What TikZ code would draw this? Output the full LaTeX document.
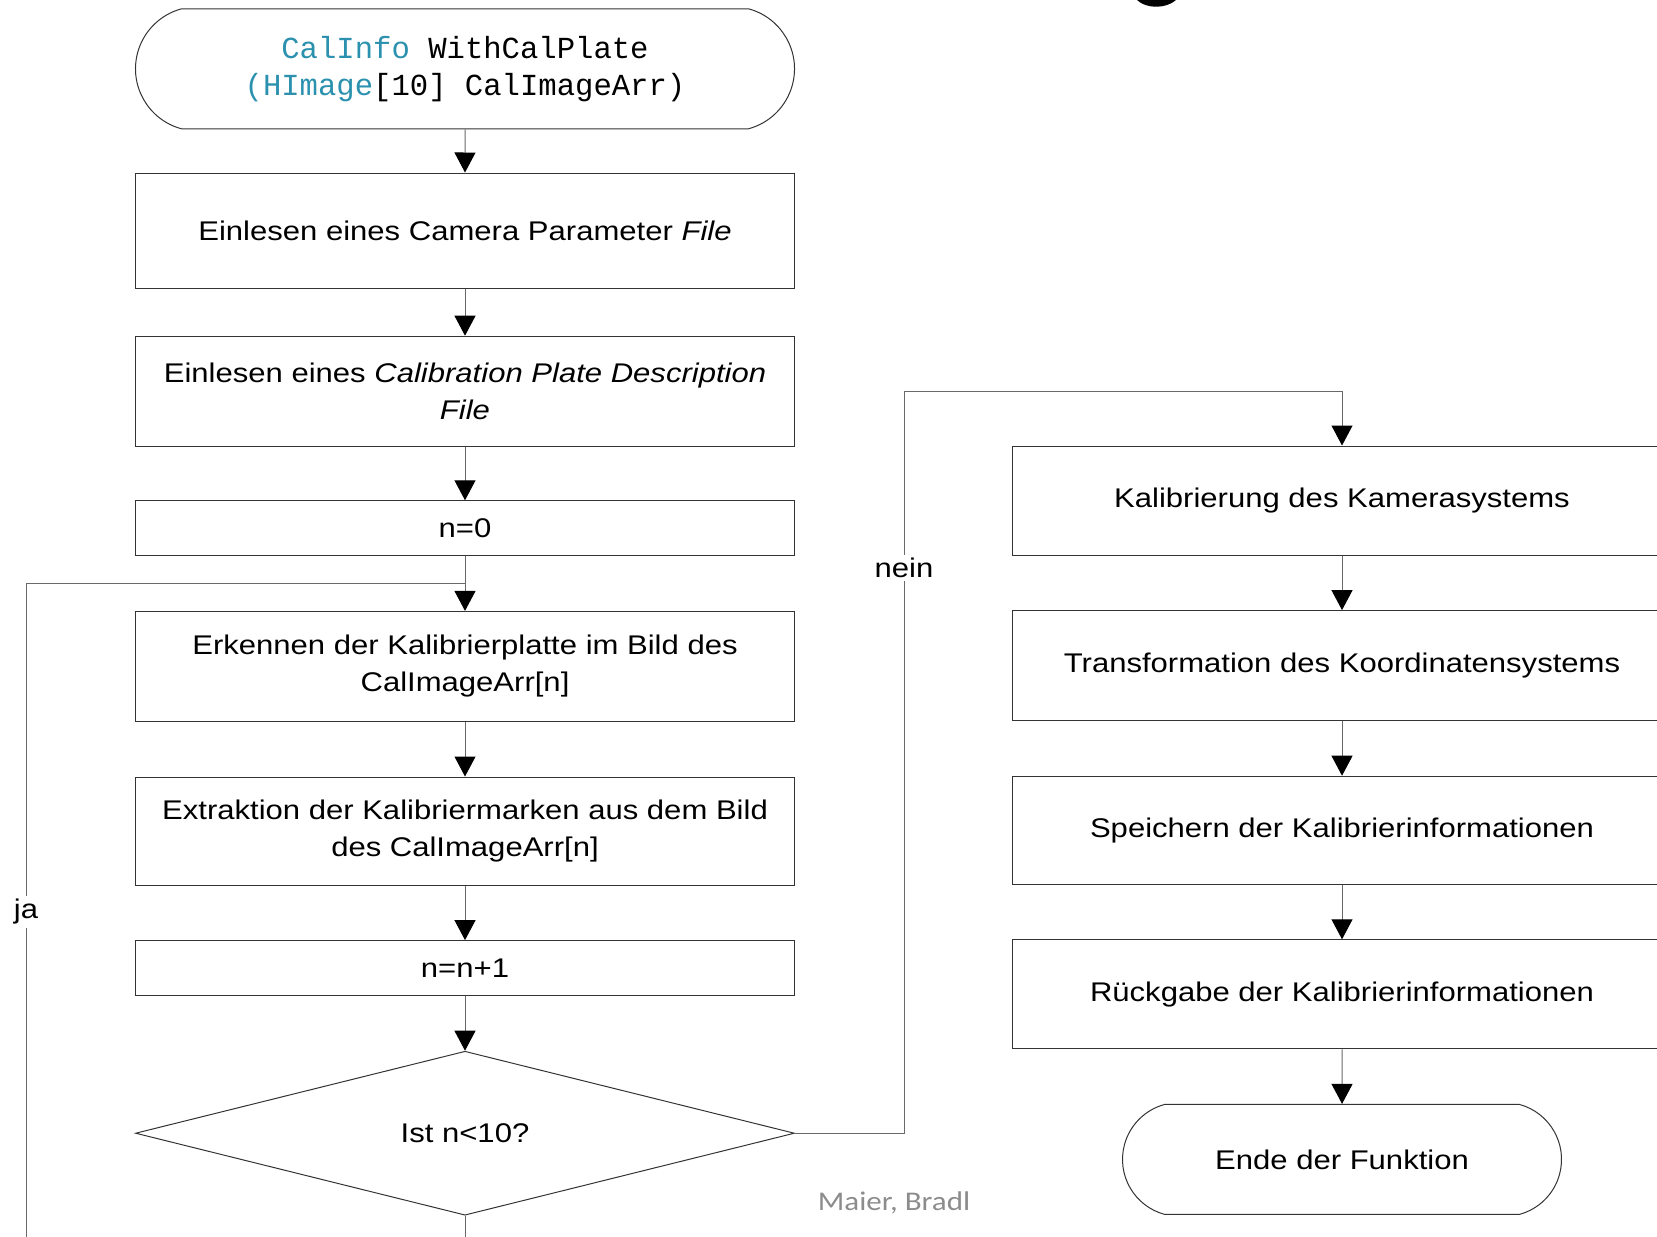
\documentclass[tikz,border=0pt]{standalone}
\usepackage{fontspec}
\usepackage{xcolor}
\setmainfont{Liberation Sans}[FakeStretch=1.15]
\setmonofont{Liberation Mono}
\newfontfamily\notefont{Carlito}[FakeStretch=1.15]
\usetikzlibrary{positioning,shapes.misc,shapes.geometric,arrows.meta}
\definecolor{typeblue}{RGB}{43,145,175}
\definecolor{linegray}{RGB}{105,105,105}
\definecolor{notegray}{RGB}{140,140,140}

\begin{document}
\begin{tikzpicture}[x=1pt,y=1pt,node distance=27.3pt,
    every node/.style={font=\fontsize{13.5}{18.5}\selectfont},
    stepbox/.style={draw=black!80,line width=0.5pt,minimum width=329.5pt,minimum height=55pt,align=center,inner sep=0pt},
    terminal/.style={draw=black!80,line width=0.5pt,rounded rectangle,rounded rectangle arc length=150,align=center,inner sep=0pt},
    decision/.style={draw=black!80,line width=0.5pt,diamond,aspect=4,minimum width=329.5pt,minimum height=82pt,inner sep=0pt},
    flow/.style={draw=linegray,line width=0.5pt,-{Triangle[width=10.5pt,length=10pt,color=black]}},
    plain/.style={draw=linegray,line width=0.5pt},
    answer/.style={fill=white,inner sep=1.5pt}]
        \useasboundingbox (0,0) rectangle (828.5,-618);
        \clip (0,0) rectangle (828.5,-618);
        \fill (568.5,0) .. controls (573,-4.5) and (583,-4.5) .. (588,0) -- cycle;
        \node[terminal,minimum width=329.5pt,minimum height=60pt,font=\ttfamily\fontsize{15.3}{18.5}\selectfont] (start) at (232.5,-34.4)
            {\textcolor{typeblue}{CalInfo} WithCalPlate\\\textcolor{typeblue}{(HImage}[10] CalImageArr)};
        \node[stepbox,minimum height=57.5pt,below=21.6pt of start] (camfile) {Einlesen eines Camera Parameter \textit{File}};
        \node[stepbox,below=23.6pt of camfile] (platefile) {Einlesen eines \textit{Calibration Plate Description}\\\textit{File}};
        \node[stepbox,minimum height=27.5pt,below=26.8pt of platefile] (nzero) {n=0};
        \node[stepbox,below=of nzero] (detect) {Erkennen der Kalibrierplatte im Bild des\\CalImageArr[n]};
        \node[stepbox,minimum height=54pt,below=of detect] (extract) {Extraktion der Kalibriermarken aus dem Bild\\des CalImageArr[n]};
        \node[stepbox,minimum height=27.5pt,below=of extract] (ninc) {n=n+1};
        \node[decision,below=of ninc] (check) {Ist n<10?};
        \node[stepbox,minimum height=54.5pt] (calib) at (671,-250.25) {Kalibrierung des Kamerasystems};
        \node[stepbox,below=of calib] (transform) {Transformation des Koordinatensystems};
        \node[stepbox,minimum height=54pt,below=of transform] (save) {Speichern der Kalibrierinformationen};
        \node[stepbox,minimum height=54.5pt,below=of save] (giveback) {Rückgabe der Kalibrierinformationen};
        \node[terminal,minimum width=219.5pt,minimum height=55pt,below=of giveback] (finish) {Ende der Funktion};
        \coordinate (loopbot) at (13,-640);
        \coordinate (loopin) at (232.5,-291.5);
        \coordinate (neintop) at (452,-195.5);
        \draw[flow] (start) -- (camfile);
        \draw[flow] (camfile) -- (platefile);
        \draw[flow] (platefile) -- (nzero);
        \draw[flow] (nzero) -- (detect);
        \draw[flow] (detect) -- (extract);
        \draw[flow] (extract) -- (ninc);
        \draw[flow] (ninc) -- (check);
        \draw[plain] (check.south) |- (loopbot) |- (loopin);
        \draw[flow] (check.east) -| (neintop) -| (calib.north);
        \draw[flow] (calib) -- (transform);
        \draw[flow] (transform) -- (save);
        \draw[flow] (save) -- (giveback);
        \draw[flow] (giveback) -- (finish);
        \node[answer] (ja) at (13,-456) {ja};
        \node[answer] (nein) at (452,-284) {nein};
        \node[text=notegray,font=\notefont\fontsize{13.5}{16}\selectfont] (authors) at (447,-601.5) {Maier, Bradl};
\end{tikzpicture}
\end{document}
